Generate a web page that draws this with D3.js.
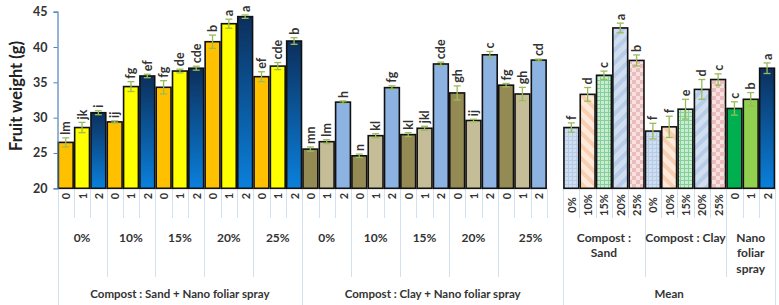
<!DOCTYPE html>
<html>
<head>
<meta charset="utf-8">
<script src="https://cdn.jsdelivr.net/npm/d3@7"></script>
<style>
  html, body { margin: 0; padding: 0; background: #fff; }
  svg { display: block; font-family: Lato, "Open Sans", sans-serif; }
</style>
</head>
<body>
<svg id="chart" width="779" height="305"></svg>
<script>
// ---------- data ----------
const nanoLevels = ["0", "1", "2"];
const compostLevels = ["0%", "10%", "15%", "20%", "25%"];

const sandValues  = [26.5, 28.6, 30.7, 29.4, 34.4, 35.9, 34.3, 36.6, 37.0, 40.75, 43.3, 44.3, 35.8, 37.3, 40.85];
const sandErrors  = [0.64, 0.73, 0.28, 0.14, 0.7, 0.24, 0.94, 0.26, 0.28, 0.94, 0.64, 0.24, 0.7, 0.5, 0.47];
const sandLetters = ["lm", "jk", "i", "ij", "fg", "ef", "fg", "de", "cde", "b", "a", "a", "ef", "cde", "b"];

const clayValues  = [25.55, 26.6, 32.2, 24.6, 27.45, 34.25, 27.6, 28.5, 37.6, 33.5, 29.6, 38.9, 34.6, 33.35, 38.15];
const clayErrors  = [0.3, 0.28, 0.17, 0.24, 0.28, 0.26, 0.28, 0.28, 0.26, 1.0, 0.17, 0.47, 0.24, 0.94, 0.14];
const clayLetters = ["mn", "lm", "h", "n", "kl", "fg", "kl", "jkl", "cde", "gh", "ij", "c", "fg", "gh", "cd"];

const meanSandValues  = [28.6, 33.3, 36.0, 42.7, 38.1];
const meanSandErrors  = [0.66, 0.97, 0.59, 0.68, 0.78];
const meanSandLetters = ["f", "d", "c", "a", "b"];

const meanClayValues  = [28.1, 28.7, 31.2, 34.0, 35.4];
const meanClayErrors  = [1.1, 1.5, 1.4, 1.4, 0.8];
const meanClayLetters = ["f", "f", "e", "d", "c"];

const meanNanoValues  = [31.3, 32.6, 37.0];
const meanNanoErrors  = [0.95, 0.95, 0.75];
const meanNanoLetters = ["c", "b", "a"];

const yTicks = [20, 25, 30, 35, 40, 45];
const yTitle = "Fruit weight  (g)";
const groupTitles = ["Compost : Sand + Nano foliar spray", "Compost : Clay + Nano foliar spray", "Mean"];
const meanSubTitles = [["Compost :", "Sand"], ["Compost : Clay"], ["Nano", "foliar", "spray"]];

// ---------- build slots ----------
const sandFills = ["#ffc000", "#ffff00", "url(#gradBlue)"];
const clayFills = ["#948a54", "#c4bd97", "#8db3e2"];
const patFills = ["url(#p0)", "url(#p10)", "url(#p15)", "url(#p20)", "url(#p25)"];
const nanoFills = ["#00b050", "#92d050", "url(#gradBlue)"];

const slots = [];
sandValues.forEach((v, k) => slots.push({label: nanoLevels[k % 3], v, e: sandErrors[k], t: sandLetters[k], fill: sandFills[k % 3]}));
clayValues.forEach((v, k) => slots.push({label: nanoLevels[k % 3], v, e: clayErrors[k], t: clayLetters[k], fill: clayFills[k % 3]}));
slots.push({label: "", v: null});
meanSandValues.forEach((v, k) => slots.push({label: compostLevels[k], v, e: meanSandErrors[k], t: meanSandLetters[k], fill: patFills[k]}));
meanClayValues.forEach((v, k) => slots.push({label: compostLevels[k], v, e: meanClayErrors[k], t: meanClayLetters[k], fill: patFills[k]}));
meanNanoValues.forEach((v, k) => slots.push({label: nanoLevels[k], v, e: meanNanoErrors[k], t: meanNanoLetters[k], fill: nanoFills[k]}));
slots.forEach((s, i) => s.i = i);

// level-2 groups [start, end inclusive, lines of text]
const level2 = [];
compostLevels.forEach((c, k) => level2.push([k * 3, k * 3 + 2, [c]]));
compostLevels.forEach((c, k) => level2.push([15 + k * 3, k === 4 ? 30 : 15 + k * 3 + 2, [c]]));
level2.push([31, 35, meanSubTitles[0]]);
level2.push([36, 40, meanSubTitles[1]]);
level2.push([41, 43, meanSubTitles[2]]);
const level3 = [[0, 14, groupTitles[0]], [15, 30, groupTitles[1]], [31, 43, groupTitles[2]]];

// ---------- scales ----------
const svg = d3.select("#chart");
const x = d3.scaleBand().domain(d3.range(slots.length)).range([57.6, 775.2]).padding(0);
const y = d3.scaleLinear().domain([20, 45]).range([188.3, 11.7]);
const bw = x.bandwidth();
const textCol = "#333333";

// ---------- defs ----------
const defs = svg.append("defs");
const g = defs.append("linearGradient").attr("id", "gradBlue").attr("x1", 0).attr("y1", 0).attr("x2", 0).attr("y2", 1);
g.append("stop").attr("offset", "0%").attr("stop-color", "#0c2f5c");
g.append("stop").attr("offset", "100%").attr("stop-color", "#0a80dc");

function pat(id, size, bg, draw, transform) {
  const p = defs.append("pattern").attr("id", id).attr("patternUnits", "userSpaceOnUse")
    .attr("width", size).attr("height", size);
  if (transform) p.attr("patternTransform", transform);
  p.append("rect").attr("width", size).attr("height", size).attr("fill", bg);
  draw(p);
}
pat("p0", 4, "#cfdef1", p => {
  p.append("rect").attr("width", 4).attr("height", 1).attr("fill", "#b6cbe6");
  p.append("rect").attr("width", 1).attr("height", 4).attr("fill", "#b6cbe6");
});
pat("p10", 9, "#fdeadc", p => {
  p.append("rect").attr("width", 4).attr("height", 9).attr("fill", "#f9cfb0");
}, "rotate(-45)");
pat("p15", 4, "#c9edd2", p => {
  p.append("rect").attr("width", 4).attr("height", 1).attr("fill", "#85cf98");
  p.append("rect").attr("width", 1).attr("height", 4).attr("fill", "#85cf98");
});
pat("p20", 9, "#d0deef", p => {
  p.append("rect").attr("width", 4).attr("height", 9).attr("fill", "#b7cce8");
}, "rotate(45)");
pat("p25", 8, "#f6e0e0", p => {
  p.append("rect").attr("width", 4).attr("height", 4).attr("fill", "#ebbcbc");
  p.append("rect").attr("x", 4).attr("y", 4).attr("width", 4).attr("height", 4).attr("fill", "#ebbcbc");
});

// ---------- category axis grid ----------
const lineCol = "#d3e0f0";
const catLines = svg.append("g");
for (let b = 0; b <= slots.length; b++) {
  const xb = b < slots.length ? x(b) : x(slots.length - 1) + bw;
  let y2 = 218;
  if (level2.some(l => l[0] === b || l[1] + 1 === b)) y2 = 277;
  if (level3.some(l => l[0] === b || l[1] + 1 === b)) y2 = 305;
  catLines.append("line").attr("x1", Math.round(xb) + 0.5).attr("x2", Math.round(xb) + 0.5)
    .attr("y1", 188.5).attr("y2", y2).attr("stroke", lineCol).attr("stroke-width", 1);
}

// level-1 labels (rotated)
svg.append("g").selectAll("text").data(slots.filter(s => s.label)).join("text")
  .attr("transform", d => `translate(${x(d.i) + bw / 2},${d.label.includes("%") ? 205 : 196}) rotate(-90)`)
  .attr("text-anchor", "middle").attr("dominant-baseline", "central")
  .attr("font-size", 11).attr("font-weight", "bold").attr("fill", textCol)
  .text(d => d.label);

// level-2 labels
const l2 = svg.append("g");
level2.forEach(([a, b, lines]) => {
  const cx = (x(a) + x(b) + bw) / 2;
  lines.forEach((t, k) => {
    l2.append("text").attr("x", cx).attr("y", 237 + k * 15.5)
      .attr("text-anchor", "middle").attr("dominant-baseline", "central")
      .attr("font-size", 12).attr("font-weight", "bold").attr("fill", textCol).text(t);
  });
});
// level-3 labels
const l3 = svg.append("g");
level3.forEach(([a, b, t]) => {
  const cx = (x(a) + x(b) + bw) / 2;
  l3.append("text").attr("x", cx).attr("y", 293)
    .attr("text-anchor", "middle").attr("dominant-baseline", "central")
    .attr("font-size", 11.5).attr("font-weight", "bold").attr("fill", textCol).text(t);
});

// ---------- bars ----------
const data = slots.filter(s => s.v !== null);
svg.append("g").selectAll("rect").data(data).join("rect")
  .attr("x", d => x(d.i) + 0.75)
  .attr("width", bw - 1.5)
  .attr("y", d => y(d.v))
  .attr("height", d => y(20) - y(d.v))
  .attr("fill", d => d.fill)
  .attr("stroke", "#111").attr("stroke-width", 1.6);

// error bars
const eb = svg.append("g").attr("stroke", "#9bbb59").attr("stroke-width", 1.3);
data.forEach(d => {
  const cx = x(d.i) + bw / 2;
  eb.append("line").attr("x1", cx).attr("x2", cx).attr("y1", y(d.v + d.e)).attr("y2", y(d.v - d.e));
  eb.append("line").attr("x1", cx - 3.5).attr("x2", cx + 3.5).attr("y1", y(d.v + d.e)).attr("y2", y(d.v + d.e));
  eb.append("line").attr("x1", cx - 3.5).attr("x2", cx + 3.5).attr("y1", y(d.v - d.e)).attr("y2", y(d.v - d.e));
});

// significance letters
svg.append("g").selectAll("text").data(data).join("text")
  .attr("transform", d => `translate(${x(d.i) + bw / 2},${y(d.v + d.e) - 3}) rotate(-90)`)
  .attr("text-anchor", "start").attr("dominant-baseline", "central")
  .attr("font-size", 12.5).attr("font-weight", "bold").attr("fill", textCol)
  .text(d => d.t);

// ---------- y axis ----------
const yAxis = svg.append("g").attr("transform", "translate(57.5,0)")
  .call(d3.axisLeft(y).tickValues(yTicks).tickSize(4).tickPadding(6));
yAxis.select(".domain").attr("stroke", "#4f81bd").attr("stroke-width", 1.2);
yAxis.selectAll(".tick line").attr("stroke", "#4f81bd");
yAxis.selectAll(".tick text").attr("font-size", 12.5).attr("font-weight", "bold")
  .attr("fill", textCol).attr("font-family", "Lato, 'Open Sans', sans-serif");

svg.append("text").attr("transform", "translate(16,96) rotate(-90)")
  .attr("text-anchor", "middle").attr("dominant-baseline", "central")
  .attr("font-size", 16.5).attr("font-weight", "bold").attr("fill", "#222").text(yTitle);
</script>
</body>
</html>
